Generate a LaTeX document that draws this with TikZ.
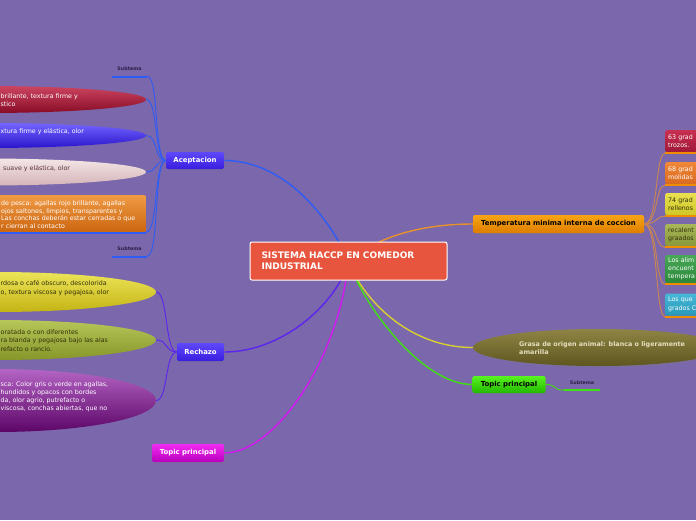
\documentclass[tikz,border=0pt]{standalone}
\usepackage{fontspec}
\setmainfont{DejaVu Sans}
\usetikzlibrary{shapes.geometric,shadows}
\definecolor{MapBack}{HTML}{7A67AC}
\definecolor{CoreRed}{HTML}{E8553E}
\definecolor{AcepTop}{HTML}{5F48FA}
\definecolor{AcepBot}{HTML}{3A1EE0}
\definecolor{MagTop}{HTML}{F22AF2}
\definecolor{MagBot}{HTML}{B800BC}
\definecolor{TempTop}{HTML}{F8A414}
\definecolor{TempBot}{HTML}{DE7E00}
\definecolor{GreenTop}{HTML}{58F420}
\definecolor{GreenBot}{HTML}{22B800}
\definecolor{OliveTop}{HTML}{8E8444}
\definecolor{OliveBot}{HTML}{5E5620}
\definecolor{OliveInk}{HTML}{E6E0C0}
\definecolor{RoseTop}{HTML}{CC4460}
\definecolor{RoseBot}{HTML}{880C26}
\definecolor{IndigoTop}{HTML}{7464FF}
\definecolor{IndigoBot}{HTML}{2A16CC}
\definecolor{BlushTop}{HTML}{F4E6E6}
\definecolor{BlushBot}{HTML}{D4B4B8}
\definecolor{BlushInk}{HTML}{5A3040}
\definecolor{AmberTop}{HTML}{F09A44}
\definecolor{AmberBot}{HTML}{CC6610}
\definecolor{LemonTop}{HTML}{ECE458}
\definecolor{LemonBot}{HTML}{C4B414}
\definecolor{LimeTop}{HTML}{B6C658}
\definecolor{LimeBot}{HTML}{869628}
\definecolor{PlumTop}{HTML}{B464C4}
\definecolor{PlumBot}{HTML}{5C0668}
\definecolor{DarkInk}{HTML}{33300C}
\definecolor{SubInk}{HTML}{2A2048}
\definecolor{LinkBlue}{HTML}{2F5CF5}
\definecolor{LinkViolet}{HTML}{5B25EE}
\definecolor{LinkMagenta}{HTML}{D418F0}
\definecolor{LinkOrange}{HTML}{E8902A}
\definecolor{LinkYellow}{HTML}{D8D030}
\definecolor{LinkGreen}{HTML}{40E010}
\definecolor{LinkTan}{HTML}{CC8650}
\definecolor{LineOrange}{HTML}{F08C00}
\definecolor{BoxRedTop}{HTML}{C83050}
\definecolor{BoxRedBot}{HTML}{A01838}
\definecolor{BoxOrgTop}{HTML}{F08838}
\definecolor{BoxOrgBot}{HTML}{D86A20}
\definecolor{BoxYelTop}{HTML}{E8E050}
\definecolor{BoxYelBot}{HTML}{D0C828}
\definecolor{BoxOlvTop}{HTML}{A8B858}
\definecolor{BoxOlvBot}{HTML}{88983A}
\definecolor{BoxGrnTop}{HTML}{48A858}
\definecolor{BoxGrnBot}{HTML}{2A8838}
\definecolor{BoxCyaTop}{HTML}{48B8D8}
\definecolor{BoxCyaBot}{HTML}{2898B8}
\pgfdeclarelayer{backdrop}
\pgfdeclarelayer{links}
\pgfsetlayers{backdrop,links,main}

\begin{document}
\begin{tikzpicture}[x=1pt,y=-1pt,font=\fontsize{6.3}{8}\selectfont,
  topic/.style={rounded corners=2pt,inner sep=0pt,font=\fontsize{6.9}{8}\selectfont\bfseries,
    drop shadow={opacity=0.3,shadow xshift=0.8pt,shadow yshift=-1.2pt}},
  leaf/.style={ellipse,inner sep=0pt,minimum width=320},
  bubble/.style={anchor=west,align=left,inner sep=0pt},
  tbox/.style={anchor=west,rounded corners=2pt,text width=54,inner xsep=3pt,inner ysep=0pt,
    minimum height=22,align=left,font=\fontsize{6.3}{8.5}\selectfont},
  subtema/.style={minimum width=35,minimum height=14,inner sep=0pt,
    font=\fontsize{4.8}{5}\selectfont\bfseries,text=SubInk},
  subline/.style={line width=2.4pt},
  branch/.style={line width=1.4pt},
  twig/.style={line width=0.9pt}]
  \useasboundingbox (0,0) rectangle (696,520);
  \begin{pgfonlayer}{backdrop}
    \fill[MapBack] (0,0) rectangle (696,520);
  \end{pgfonlayer}
  \clip (0,0) rectangle (696,520);

  \node[draw=white,line width=1pt,rounded corners=2pt,fill=CoreRed,minimum width=197,minimum height=38,
    text width=174,align=left,text=white,font=\fontsize{9}{11}\selectfont\bfseries]
    (core) at (348.5,261) {SISTEMA HACCP EN COMEDOR\\INDUSTRIAL};

  \node[topic,minimum width=58,minimum height=17,top color=AcepTop,bottom color=AcepBot,text=white]
    (acep) at (195,160.5) {Aceptacion};
  \node[topic,minimum width=47,minimum height=18,top color=AcepTop,bottom color=AcepBot,text=white]
    (rech) at (200.5,352) {Rechazo};
  \node[topic,minimum width=72,minimum height=18,top color=MagTop,bottom color=MagBot,text=white]
    (topm) at (188,453) {Topic principal};
  \node[topic,minimum width=171,minimum height=18,top color=TempTop,bottom color=TempBot,text=black]
    (temp) at (558.5,224) {Temperatura minima interna de coccion};
  \node[topic,minimum width=73,minimum height=17,top color=GreenTop,bottom color=GreenBot,text=black]
    (topg) at (509,384.5) {Topic principal};

  \node[leaf,minimum width=250,minimum height=37,top color=OliveTop,bottom color=OliveBot,
    drop shadow={opacity=0.3,shadow xshift=0.8pt,shadow yshift=-1.2pt}] (grasa) at (598,347.5) {};
  \node[bubble,text=OliveInk,font=\fontsize{6.4}{8}\selectfont\bfseries] (grasatxt) at (519,348)
    {Grasa de origen animal: blanca o ligeramente\\amarilla};

  \node[subtema] (s1) at (129.5,69) {Subtema};
  \node[subtema] (s2) at (129.5,249) {Subtema};
  \node[subtema] (s3) at (582,383) {Subtema};

  \node[leaf,minimum height=27,top color=RoseTop,bottom color=RoseBot] (e1) at (-14,99.5) {};
  \node[bubble,text=white] (e1txt) at (0.5,100) {brillante, textura firme y\\stico};
  \node[leaf,minimum height=25,top color=IndigoTop,bottom color=IndigoBot] (e2) at (-14,135.5) {};
  \node[bubble,text=white] (e2txt) at (0.5,132) {xtura firme y elástica, olor};
  \node[leaf,minimum height=27,top color=BlushTop,bottom color=BlushBot] (e3) at (-14,172) {};
  \node[bubble,text=BlushInk] (e3txt) at (3,169) {suave y elástica, olor};
  \node[rounded corners=2pt,minimum width=300,minimum height=37,inner sep=0pt,
    top color=AmberTop,bottom color=AmberBot] (r4) at (-4,213.5) {};
  \node[bubble,text=white,font=\fontsize{6.3}{7.7}\selectfont] (r4txt) at (1,214.5)
    {de pesca: agallas rojo brillante, agallas\\ojos saltones, limpios, transparentes y\\Las conchas deberán estar cerradas o que\\r cierran al contacto};

  \node[leaf,minimum height=40,top color=LemonTop,bottom color=LemonBot] (y1) at (-4,292) {};
  \node[bubble,text=DarkInk,font=\fontsize{6.3}{9}\selectfont] (y1txt) at (0.5,288.5)
    {rdosa o café obscuro, descolorida\\o, textura viscosa y pegajosa, olor};
  \node[leaf,minimum height=40,top color=LimeTop,bottom color=LimeBot] (y2) at (-4,340) {};
  \node[bubble,text=DarkInk,font=\fontsize{6.3}{8.5}\selectfont] (y2txt) at (0.5,340.5)
    {oratada o con diferentes\\ra blanda y pegajosa bajo las alas\\refacto o rancio.};
  \node[leaf,minimum height=63,top color=PlumTop,bottom color=PlumBot] (y3) at (-4,400.5) {};
  \node[bubble,text=white] (y3txt) at (0.5,397)
    {sca: Color gris o verde en agallas,\\hundidos y opacos con bordes\\da, olor agrio, putrefacto o\\viscosa, conchas abiertas, que no};

  \node[tbox,top color=BoxRedTop,bottom color=BoxRedBot,text=white] (t1) at (665,141) {63 grad\\trozos.};
  \node[tbox,top color=BoxOrgTop,bottom color=BoxOrgBot,text=white] (t2) at (665,173) {68 grad\\molidas};
  \node[tbox,top color=BoxYelTop,bottom color=BoxYelBot,text=DarkInk] (t3) at (665,204) {74 grad\\rellenos};
  \node[tbox,top color=BoxOlvTop,bottom color=BoxOlvBot,text=DarkInk] (t4) at (665,235) {recalent\\graados};
  \node[tbox,minimum height=28,top color=BoxGrnTop,bottom color=BoxGrnBot,text=white,
    font=\fontsize{6.3}{8}\selectfont] (t5) at (665,269) {Los alim\\encuent\\tempera};
  \node[tbox,top color=BoxCyaTop,bottom color=BoxCyaBot,text=white] (t6) at (665,304.5) {Los que\\grados C};

  \foreach \b in {s1,s2,r4}
    \draw[subline,LinkBlue] ([yshift=-0.5pt]\b.south west) -- ([yshift=-0.5pt]\b.south east);
  \draw[subline,LinkGreen] (s3.south west) -- (s3.south east);
  \foreach \b in {t1,t2,t3,t4,t5,t6}
    \draw[subline,LineOrange] ([yshift=-1pt]\b.south west) -- ([yshift=-1pt]\b.south east);

  \begin{pgfonlayer}{links}
    \draw[branch,LinkBlue] (core.center) .. controls +(-15,-35) and +(65,0) .. (acep.east);
    \draw[branch,LinkViolet] (core.center) .. controls +(-10,40) and +(60,0) .. (rech.east);
    \draw[branch,LinkMagenta] (core.center) .. controls +(-10,100) and +(50,0) .. (topm.east);
    \draw[branch,LinkOrange] (core.center) .. controls +(30,-25) and +(-50,0) .. (temp.west);
    \draw[branch,LinkYellow] (core.center) .. controls +(10,30) and +(-70,0) .. (grasa.west);
    \draw[branch,LinkGreen] (core.center) .. controls +(15,45) and +(-50,0) .. (topg.west);
    \foreach \c in {s1.south east,e1.east,e2.east,e3.east,r4.south east,s2.south east}
      \draw[twig,LinkBlue] (acep.west) .. controls +(-12,0) and +(12,0) .. (\c);
    \foreach \c in {y1,y2,y3}
      \draw[twig,LinkViolet] (rech.west) .. controls +(-12,0) and +(12,0) .. (\c.east);
    \foreach \c in {t1,t2,t3,t4,t5,t6}
      \draw[twig,LinkTan] (temp.east) .. controls +(14,0) and +(-10,0) .. ([yshift=-1pt]\c.south west);
    \draw[twig,LinkGreen] (topg.east) .. controls +(12,0) and +(-12,0) .. (s3.south west);
  \end{pgfonlayer}
\end{tikzpicture}
\end{document}
